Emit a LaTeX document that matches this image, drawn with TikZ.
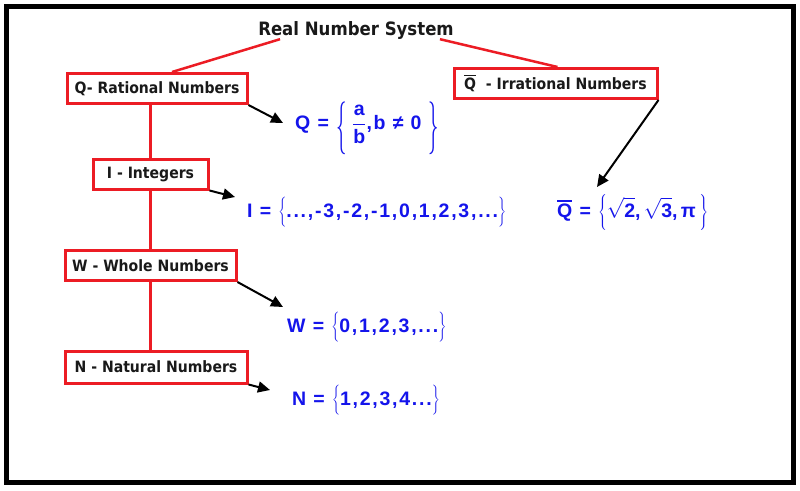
\documentclass[tikz,border=0pt]{standalone}
\usepackage{fontspec}
\usepackage{graphicx}
\usetikzlibrary{arrows.meta,calc}
\newfontfamily\lblfont{DejaVu Sans}[FakeStretch=0.9]
\newfontfamily\frmfont{Liberation Sans}[LetterSpace=9]
\definecolor{boxred}{RGB}{236,28,36}
\definecolor{frmblue}{RGB}{20,20,235}
\definecolor{lbltext}{RGB}{25,25,25}
\newcommand\qover[2]{\vbox{\hrule height #1\kern #2\hbox{Q}}}
\newcommand\tallbrace[1]{\raisebox{-12pt}{\scalebox{1}[2.55]{$#1$}}}
\begin{document}
\begin{tikzpicture}[x=1pt,y=-1pt,
  redbox/.style={draw=boxred, line width=3pt, fill=white, inner sep=0pt,
    font=\lblfont\bfseries\fontsize{15.6}{18}\selectfont, text=lbltext},
  redline/.style={draw=boxred, line width=2.5pt},
  blkarrow/.style={draw=black, line width=2pt, -{Triangle[length=12pt,width=11pt]}},
  formula/.style={inner sep=0pt, text=frmblue, anchor=west,
    font=\frmfont\bfseries\fontsize{19.5}{22}\selectfont}
]
\useasboundingbox (0,0) rectangle (800,490);
\fill[white] (0,0) rectangle (800,490);
\draw[line width=5pt] (6,6.5) rectangle (793,482.5);

% title
\node[inner sep=0pt, text=lbltext, font=\lblfont\bfseries\fontsize{18.4}{20}\selectfont] (title) at (356,30) {Real Number System};

% boxes
\node[redbox, minimum width=180pt, minimum height=30pt] (qbox) at (157,88.5) {Q- Rational Numbers};
\node[redbox, minimum width=203pt, minimum height=30pt] (qbarbox) at (555.5,83.5) {\qover{1.3pt}{1.5pt}\ \ - Irrational Numbers};
\node[redbox, minimum width=115pt, minimum height=30pt] (ibox) at (150.5,174) {I - Integers};
\node[redbox, minimum width=171pt, minimum height=30pt] (wbox) at (150.5,265.5) {W - Whole Numbers};
\node[redbox, minimum width=182pt, minimum height=32pt] (nbox) at (156,367) {N - Natural Numbers};

% red connectors
\draw[redline] ([xshift=22pt]title.south west) -- ([xshift=15pt]qbox.north);
\draw[redline] ([xshift=-14pt]title.south east) -- ([xshift=2pt]qbarbox.north);
\draw[redline] (ibox.north |- qbox.south) -- (ibox.north);
\draw[redline] (ibox.south) -- (wbox.north);
\draw[redline] (wbox.south) -- (wbox.south |- nbox.north);

% formulas
\node[formula] (qf) at (295,128) {Q = \tallbrace\{$\;\displaystyle\frac{\mbox{a}\rule[-3pt]{0pt}{3pt}}{\mbox{b}\rule{0pt}{17pt}}$,b ≠ 0$\,\,$\tallbrace\}};
\node[formula] (if) at (247,212) {I = $\left\{\rule[-9pt]{0pt}{26pt}\mbox{...,-3,-2,-1,0,1,2,3,...}\right\}$};
\node[formula] (qbf) at (557,212) {\qover{1.6pt}{2pt} = $\left\{\rule[-11pt]{0pt}{34pt}\sqrt{\mbox{2}\rule{0pt}{16pt}}\mbox{,}\,\sqrt{\mbox{3}\rule{0pt}{16pt}}\mbox{,}\,\mbox{π}\,\right\}$};
\node[formula] (wf) at (287,327) {W = $\left\{\rule[-9pt]{0pt}{26pt}\mbox{0,1,2,3,...}\right\}$};
\node[formula] (nf) at (292,400) {N = $\left\{\rule[-9pt]{0pt}{26pt}\mbox{1,2,3,4...}\right\}$};

% black arrows
\draw[blkarrow] (qbox.south east) -- ($(qf.west)+(-12,-5)$);
\draw[blkarrow] (ibox.south east) -- ($(if.west)+(-12,-15)$);
\draw[blkarrow] (qbarbox.south east) -- ($(qbf.west)+(40,-25)$);
\draw[blkarrow] (wbox.south east) -- ($(wf.west)+(-4,-20)$);
\draw[blkarrow] (nbox.south east) -- ($(nf.west)+(-22,-10)$);
\end{tikzpicture}
\end{document}
